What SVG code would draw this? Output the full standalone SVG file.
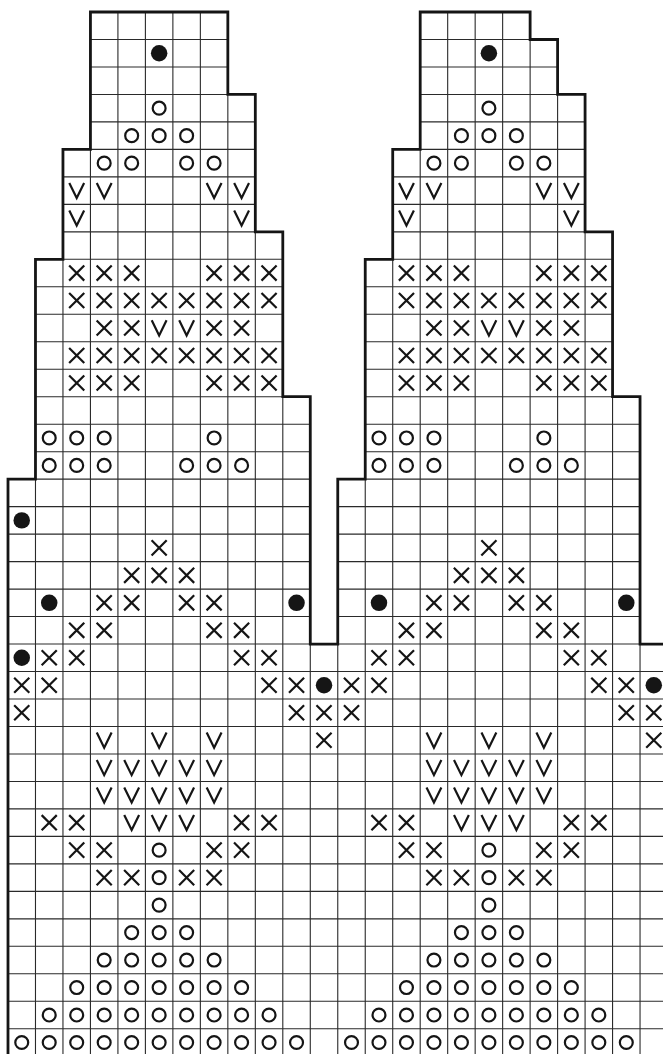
<svg xmlns="http://www.w3.org/2000/svg" xmlns:xlink="http://www.w3.org/1999/xlink" width="663" height="1054" viewBox="0 0 663 1054">
<style>
.thin{fill:none;stroke:#2a2a2a;stroke-width:0.04}
.thick{fill:none;stroke:#151515;stroke-width:0.102;stroke-linejoin:miter;stroke-linecap:square}
.sym{fill:none;stroke:#151515;stroke-width:0.08}
.fill{fill:#151515}
</style>
<defs>
<circle id="dot" class="fill" r="0.3"/>
<circle id="o" class="sym" r="0.235"/>
<path id="x" class="sym" d="M-0.275 -0.275L0.275 0.275M0.275 -0.275L-0.275 0.275"/>
<path id="v" class="sym" d="M-0.27 -0.28L0 0.27L0.27 -0.28"/>
</defs>
<rect width="663" height="1054" fill="#fff"/>
<g transform="translate(8 12) scale(27.48)">
<g id="grid">
<path class="thin" d="M3 0H8M3 1H8M3 2H8M3 3H9M3 4H9M2 5H9M2 6H9M2 7H9M2 8H10M1 9H10M1 10H10M1 11H10M1 12H10M1 13H10M1 14H11M1 15H11M1 16H11M0 17H11M0 18H11M0 19H11M0 20H11M0 21H11M0 22H11M0 17V23M1 9V23M2 5V23M3 0V23M4 0V23M5 0V23M6 0V23M7 0V23M8 0V23M9 3V23M10 8V23M11 14V23"/>
<path class="thin" d="M15 0H19M15 1H20M15 2H20M15 3H21M15 4H21M14 5H21M14 6H21M14 7H21M14 8H22M13 9H22M13 10H22M13 11H22M13 12H22M13 13H22M13 14H23M13 15H23M13 16H23M12 17H23M12 18H23M12 19H23M12 20H23M12 21H23M12 22H23M12 17V23M13 9V23M14 5V23M15 0V23M16 0V23M17 0V23M18 0V23M19 0V23M20 1V23M21 3V23M22 8V23M23 14V23"/>
<path class="thin" d="M0 23H25M0 24H25M0 25H25M0 26H25M0 27H25M0 28H25M0 29H25M0 30H25M0 31H25M0 32H25M0 33H25M0 34H25M0 35H25M0 36H25M0 37H25M0 23V38M1 23V38M2 23V38M3 23V38M4 23V38M5 23V38M6 23V38M7 23V38M8 23V38M9 23V38M10 23V38M11 23V38M12 23V38M13 23V38M14 23V38M15 23V38M16 23V38M17 23V38M18 23V38M19 23V38M20 23V38M21 23V38M22 23V38M23 23V38M24 23V38"/>
</g>
<g id="left-chart">
<g id="motif">
<use href="#dot" x="5.5" y="1.5"/>
<use href="#o" x="5.5" y="3.5"/>
<use href="#o" x="4.5" y="4.5"/><use href="#o" x="5.5" y="4.5"/><use href="#o" x="6.5" y="4.5"/>
<use href="#o" x="3.5" y="5.5"/><use href="#o" x="4.5" y="5.5"/><use href="#o" x="6.5" y="5.5"/><use href="#o" x="7.5" y="5.5"/>
<use href="#v" x="2.5" y="6.5"/><use href="#v" x="3.5" y="6.5"/><use href="#v" x="7.5" y="6.5"/><use href="#v" x="8.5" y="6.5"/>
<use href="#v" x="2.5" y="7.5"/><use href="#v" x="8.5" y="7.5"/>
<use href="#x" x="2.5" y="9.5"/><use href="#x" x="3.5" y="9.5"/><use href="#x" x="4.5" y="9.5"/><use href="#x" x="7.5" y="9.5"/><use href="#x" x="8.5" y="9.5"/><use href="#x" x="9.5" y="9.5"/>
<use href="#x" x="2.5" y="10.5"/><use href="#x" x="3.5" y="10.5"/><use href="#x" x="4.5" y="10.5"/><use href="#x" x="5.5" y="10.5"/><use href="#x" x="6.5" y="10.5"/><use href="#x" x="7.5" y="10.5"/><use href="#x" x="8.5" y="10.5"/><use href="#x" x="9.5" y="10.5"/>
<use href="#x" x="3.5" y="11.5"/><use href="#x" x="4.5" y="11.5"/><use href="#v" x="5.5" y="11.5"/><use href="#v" x="6.5" y="11.5"/><use href="#x" x="7.5" y="11.5"/><use href="#x" x="8.5" y="11.5"/>
<use href="#x" x="2.5" y="12.5"/><use href="#x" x="3.5" y="12.5"/><use href="#x" x="4.5" y="12.5"/><use href="#x" x="5.5" y="12.5"/><use href="#x" x="6.5" y="12.5"/><use href="#x" x="7.5" y="12.5"/><use href="#x" x="8.5" y="12.5"/><use href="#x" x="9.5" y="12.5"/>
<use href="#x" x="2.5" y="13.5"/><use href="#x" x="3.5" y="13.5"/><use href="#x" x="4.5" y="13.5"/><use href="#x" x="7.5" y="13.5"/><use href="#x" x="8.5" y="13.5"/><use href="#x" x="9.5" y="13.5"/>
<use href="#o" x="1.5" y="15.5"/><use href="#o" x="2.5" y="15.5"/><use href="#o" x="3.5" y="15.5"/><use href="#o" x="7.5" y="15.5"/>
<use href="#o" x="1.5" y="16.5"/><use href="#o" x="2.5" y="16.5"/><use href="#o" x="3.5" y="16.5"/><use href="#o" x="6.5" y="16.5"/><use href="#o" x="7.5" y="16.5"/><use href="#o" x="8.5" y="16.5"/>
<use href="#x" x="5.5" y="19.5"/>
<use href="#x" x="4.5" y="20.5"/><use href="#x" x="5.5" y="20.5"/><use href="#x" x="6.5" y="20.5"/>
<use href="#dot" x="1.5" y="21.5"/><use href="#x" x="3.5" y="21.5"/><use href="#x" x="4.5" y="21.5"/><use href="#x" x="6.5" y="21.5"/><use href="#x" x="7.5" y="21.5"/><use href="#dot" x="10.5" y="21.5"/>
<use href="#x" x="2.5" y="22.5"/><use href="#x" x="3.5" y="22.5"/><use href="#x" x="7.5" y="22.5"/><use href="#x" x="8.5" y="22.5"/>
<use href="#x" x="1.5" y="23.5"/><use href="#x" x="2.5" y="23.5"/><use href="#x" x="8.5" y="23.5"/><use href="#x" x="9.5" y="23.5"/>
<use href="#x" x="0.5" y="24.5"/><use href="#x" x="1.5" y="24.5"/><use href="#x" x="9.5" y="24.5"/><use href="#x" x="10.5" y="24.5"/><use href="#dot" x="11.5" y="24.5"/>
<use href="#x" x="0.5" y="25.5"/><use href="#x" x="10.5" y="25.5"/><use href="#x" x="11.5" y="25.5"/>
<use href="#v" x="3.5" y="26.5"/><use href="#v" x="5.5" y="26.5"/><use href="#v" x="7.5" y="26.5"/><use href="#x" x="11.5" y="26.5"/>
<use href="#v" x="3.5" y="27.5"/><use href="#v" x="4.5" y="27.5"/><use href="#v" x="5.5" y="27.5"/><use href="#v" x="6.5" y="27.5"/><use href="#v" x="7.5" y="27.5"/>
<use href="#v" x="3.5" y="28.5"/><use href="#v" x="4.5" y="28.5"/><use href="#v" x="5.5" y="28.5"/><use href="#v" x="6.5" y="28.5"/><use href="#v" x="7.5" y="28.5"/>
<use href="#x" x="1.5" y="29.5"/><use href="#x" x="2.5" y="29.5"/><use href="#v" x="4.5" y="29.5"/><use href="#v" x="5.5" y="29.5"/><use href="#v" x="6.5" y="29.5"/><use href="#x" x="8.5" y="29.5"/><use href="#x" x="9.5" y="29.5"/>
<use href="#x" x="2.5" y="30.5"/><use href="#x" x="3.5" y="30.5"/><use href="#o" x="5.5" y="30.5"/><use href="#x" x="7.5" y="30.5"/><use href="#x" x="8.5" y="30.5"/>
<use href="#x" x="3.5" y="31.5"/><use href="#x" x="4.5" y="31.5"/><use href="#o" x="5.5" y="31.5"/><use href="#x" x="6.5" y="31.5"/><use href="#x" x="7.5" y="31.5"/>
<use href="#o" x="5.5" y="32.5"/>
<use href="#o" x="4.5" y="33.5"/><use href="#o" x="5.5" y="33.5"/><use href="#o" x="6.5" y="33.5"/>
<use href="#o" x="3.5" y="34.5"/><use href="#o" x="4.5" y="34.5"/><use href="#o" x="5.5" y="34.5"/><use href="#o" x="6.5" y="34.5"/><use href="#o" x="7.5" y="34.5"/>
<use href="#o" x="2.5" y="35.5"/><use href="#o" x="3.5" y="35.5"/><use href="#o" x="4.5" y="35.5"/><use href="#o" x="5.5" y="35.5"/><use href="#o" x="6.5" y="35.5"/><use href="#o" x="7.5" y="35.5"/><use href="#o" x="8.5" y="35.5"/>
<use href="#o" x="1.5" y="36.5"/><use href="#o" x="2.5" y="36.5"/><use href="#o" x="3.5" y="36.5"/><use href="#o" x="4.5" y="36.5"/><use href="#o" x="5.5" y="36.5"/><use href="#o" x="6.5" y="36.5"/><use href="#o" x="7.5" y="36.5"/><use href="#o" x="8.5" y="36.5"/><use href="#o" x="9.5" y="36.5"/>
<use href="#o" x="0.5" y="37.5"/><use href="#o" x="1.5" y="37.5"/><use href="#o" x="2.5" y="37.5"/><use href="#o" x="3.5" y="37.5"/><use href="#o" x="4.5" y="37.5"/><use href="#o" x="5.5" y="37.5"/><use href="#o" x="6.5" y="37.5"/><use href="#o" x="7.5" y="37.5"/><use href="#o" x="8.5" y="37.5"/><use href="#o" x="9.5" y="37.5"/><use href="#o" x="10.5" y="37.5"/>
</g>
<use href="#dot" x="0.5" y="18.5"/>
<use href="#dot" x="0.5" y="23.5"/>
</g>
<g id="right-chart">
<use href="#motif" x="12" y="0"/>
</g>
<path class="thick" d="M0 38V17H1V9H2V5H3V0H8V3H9V8H10V14H11V23H12V17H13V9H14V5H15V0H19V1H20V3H21V8H22V14H23V23H25"/>
</g>
</svg>
